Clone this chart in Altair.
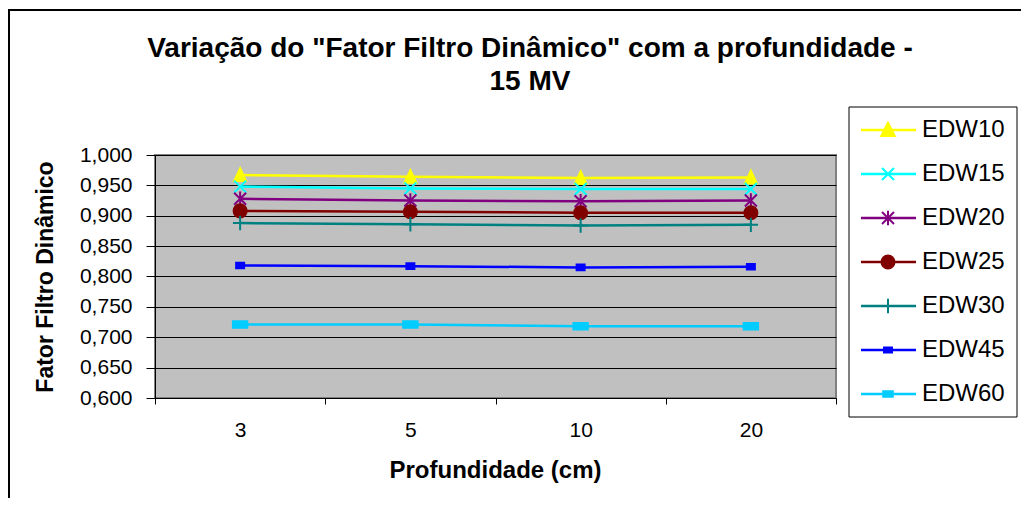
import altair as alt
import pandas as pd

depths = ["3", "5", "10", "20"]
series = ["EDW10", "EDW15", "EDW20", "EDW25", "EDW30", "EDW45", "EDW60"]
edw10 = [0.967, 0.964, 0.962, 0.963]
edw15 = [0.948, 0.945, 0.944, 0.944]
edw20 = [0.928, 0.925, 0.924, 0.925]
edw25 = [0.908, 0.9065, 0.905, 0.905]
edw30 = [0.888, 0.886, 0.884, 0.885]
edw45 = [0.818, 0.817, 0.815, 0.816]
edw60 = [0.721, 0.721, 0.718, 0.718]
values = [edw10, edw15, edw20, edw25, edw30, edw45, edw60]
colors = ["#FFFF00", "#00FFFF", "#800080", "#800000", "#008080", "#0000FF", "#00CCFF"]
y_ticks = [0.60, 0.65, 0.70, 0.75, 0.80, 0.85, 0.90, 0.95, 1.00]
title_lines = ['Variação do "Fator Filtro Dinâmico" com a profundidade -', "15 MV"]

rows = []
for s, vals in zip(series, values):
    for d, v in zip(depths, vals):
        rows.append({"depth": d, "series": s, "value": v})
df = pd.DataFrame(rows)
df_leg = pd.DataFrame({"series": series, "idx": list(range(len(series)))})

FONT = "Liberation Sans"
W, H = 681, 243

# marker shapes (custom paths are scaled by sqrt(size)/2)
marker_specs = {
    "EDW10": ("M0,-0.85L0.75,0.75L-0.75,0.75Z", 256),
    "EDW15": ("M-0.75,-0.75L0.75,0.75M-0.75,0.75L0.75,-0.75", 256),
    "EDW20": ("M-0.75,-0.75L0.75,0.75M-0.75,0.75L0.75,-0.75M0,-0.9V0.9", 256),
    "EDW25": ("circle", 170),
    "EDW30": ("M-0.9,0H0.9M0,-0.9V0.9", 256),
    "EDW45": ("M-0.5,-0.35H0.5V0.35H-0.5Z", 256),
    "EDW60": ("M-0.9,-0.4H0.9V0.4H-0.9Z", 256),
}
legend_marker_specs = dict(marker_specs)
legend_marker_specs["EDW10"] = ("M0,-0.9L0.85,0.75L-0.85,0.75Z", 256)
legend_marker_specs["EDW45"] = ("M-0.5,-0.3H0.5V0.3H-0.5Z", 256)
legend_marker_specs["EDW60"] = ("M-0.6,-0.35H0.6V0.35H-0.6Z", 256)

x_enc = alt.X(
    "depth:N",
    sort=depths,
    scale=alt.Scale(type="band", domain=depths, paddingInner=0, paddingOuter=0),
    axis=alt.Axis(
        title="Profundidade (cm)",
        labelAngle=0,
        tickBand="extent",
        tickSize=6,
        tickColor="#000000",
        domainColor="#000000",
        labelFont=FONT,
        labelFontSize=21,
        labelColor="#000000",
        labelPadding=15,
        titleFont=FONT,
        titleFontSize=24,
        titleFontWeight="bold",
        titleColor="#000000",
        titleX=340,
        titleY=72,
        titleBaseline="middle",
        titleAlign="center",
        grid=False,
    ),
)
y_enc = alt.Y(
    "value:Q",
    scale=alt.Scale(domain=[0.6, 1.0], nice=False, zero=False),
    axis=alt.Axis(
        title="Fator Filtro Dinâmico",
        values=y_ticks,
        labelExpr="replace(format(datum.value, '.3f'), '.', ',')",
        tickSize=9,
        tickColor="#000000",
        domainColor="#000000",
        gridColor="#000000",
        gridWidth=1,
        gridOpacity=1,
        labelFont=FONT,
        labelFontSize=21,
        labelColor="#000000",
        labelPadding=14,
        titleFont=FONT,
        titleFontSize=23,
        titleFontWeight="bold",
        titleColor="#000000",
        titleAngle=270,
        titleX=-110,
        titleY=H / 2,
        titleAlign="center",
        titleBaseline="middle",
    ),
)
color_scale = alt.Scale(domain=series, range=colors)

base = alt.Chart(df)
one = pd.DataFrame({"k": [0]})

frame = alt.Chart(one).mark_rect(
    filled=False, stroke="#000000", strokeWidth=2
).encode(x=alt.value(-146), x2=alt.value(1200), y=alt.value(-145), y2=alt.value(700))

title1 = alt.Chart(one).mark_text(
    text=title_lines[0], font=FONT, fontSize=28, fontWeight="bold", color="#000000",
    align="center", baseline="alphabetic",
).encode(x=alt.value(375), y=alt.value(-98))
title2 = alt.Chart(one).mark_text(
    text=title_lines[1], font=FONT, fontSize=28, fontWeight="bold", color="#000000",
    align="center", baseline="alphabetic",
).encode(x=alt.value(375), y=alt.value(-65))

lines = base.mark_line(strokeWidth=2.5).encode(
    x=x_enc,
    y=y_enc,
    color=alt.Color("series:N", scale=color_scale, legend=None),
    detail="series:N",
)

marker_layers = []
for s, c in zip(series, colors):
    shp, sz = marker_specs[s]
    marker_layers.append(
        base.transform_filter(alt.datum.series == s)
        .mark_point(filled=True, fill=c, stroke=c, strokeWidth=2, opacity=1, shape=shp, size=sz)
        .encode(x=x_enc, y=y_enc)
    )

# custom legend: rows stacked 44px apart from the top entry
leg_base = alt.Chart(df_leg).transform_calculate(ly="-25 + 44 * datum.idx")
leg_y = alt.Y("ly:Q", scale=None)
leg_box = alt.Chart(one).mark_rect(
    fill="#FFFFFF", stroke="#000000", strokeWidth=1
).encode(x=alt.value(694), x2=alt.value(862), y=alt.value(-48), y2=alt.value(262))
leg_rules = leg_base.mark_rule(strokeWidth=2.5).encode(
    x=alt.value(706),
    x2=alt.value(761),
    y=leg_y,
    color=alt.Color("series:N", scale=color_scale, legend=None),
)
leg_markers = []
for s, c in zip(series, colors):
    shp, sz = legend_marker_specs[s]
    leg_markers.append(
        leg_base.transform_filter(alt.datum.series == s)
        .mark_point(filled=True, fill=c, stroke=c, strokeWidth=2, opacity=1, shape=shp, size=sz)
        .encode(x=alt.value(733), y=leg_y)
    )
leg_text = leg_base.mark_text(
    font=FONT, fontSize=24, color="#000000", align="left", baseline="middle"
).encode(x=alt.value(767), y=leg_y, text="series:N")

chart = (
    alt.layer(frame, title1, title2, lines, *marker_layers, leg_box, leg_rules, *leg_markers, leg_text)
    .properties(
        width=W,
        height=H,
        padding={"left": 147, "top": 147, "right": 185, "bottom": 100},
        autosize=alt.AutoSizeParams(type="none"),
        background="#FFFFFF",
    )
    .configure_view(fill="#C0C0C0", stroke="#808080", strokeWidth=2)
)

chart.save("out.html", embed_options={"renderer": "svg", "actions": False})
